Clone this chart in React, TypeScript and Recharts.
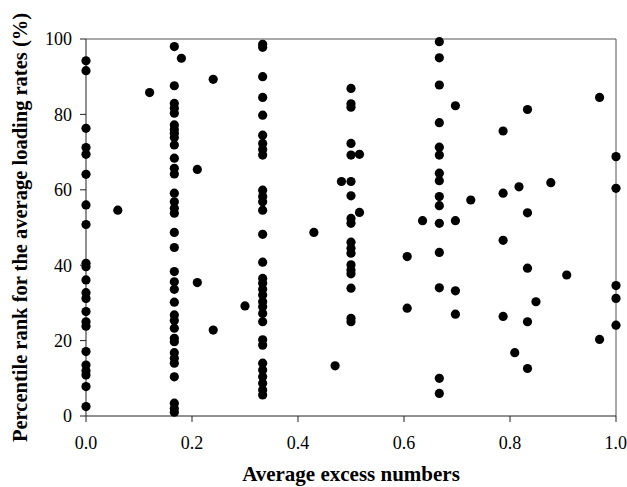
import React from "react";
import {
  ScatterChart,
  Scatter,
  XAxis,
  YAxis,
  ReferenceLine,
  Label,
} from "recharts";

// columns of points at the common excess values
const COL_0 = [94.2, 91.6, 76.3, 71.2, 69.4, 64.1, 56.0, 50.8, 40.5, 39.6, 36.1, 32.7, 31.2, 27.7, 25.0, 23.8, 17.1, 13.5, 12.0, 10.9, 7.8, 2.5];
const COL_1_6 = [98.0, 87.6, 82.9, 81.6, 80.3, 77.2, 76.0, 75.0, 73.9, 71.9, 68.4, 65.7, 64.2, 59.1, 56.8, 55.1, 53.8, 48.7, 44.7, 38.3, 35.6, 33.6, 30.2, 26.8, 25.3, 23.3, 20.6, 19.7, 16.8, 15.3, 14.0, 10.4, 3.4, 2.0, 1.0];
const COL_1_3 = [98.6, 97.8, 90.0, 84.5, 79.8, 74.5, 72.3, 70.7, 69.2, 59.9, 58.2, 56.8, 54.6, 48.2, 40.8, 36.5, 35.2, 33.6, 32.1, 30.3, 29.0, 27.2, 25.0, 20.2, 18.8, 14.0, 12.2, 10.4, 8.7, 6.9, 5.6];
const COL_1_2 = [86.9, 82.8, 81.9, 72.3, 69.2, 62.2, 58.4, 52.4, 51.1, 46.1, 44.5, 43.2, 40.1, 38.7, 37.7, 33.9, 25.9, 25.0];
const COL_2_3 = [99.3, 95.0, 87.8, 77.8, 71.3, 69.2, 64.4, 62.4, 58.2, 55.8, 51.1, 43.4, 34.0, 10.0, 6.0];
const COL_1 = [68.8, 60.4, 34.6, 31.2, 24.1];

// scattered points between the columns
const OTHER_X = [0.06, 0.12, 0.18, 0.21, 0.21, 0.24, 0.24, 0.30, 0.43, 0.47, 0.482, 0.516, 0.516, 0.606, 0.606, 0.635, 0.697, 0.697, 0.697, 0.697, 0.726, 0.787, 0.787, 0.787, 0.787, 0.809, 0.817, 0.833, 0.833, 0.833, 0.833, 0.833, 0.849, 0.877, 0.907, 0.969, 0.969];
const OTHER_Y = [54.6, 85.8, 94.9, 65.4, 35.4, 89.3, 22.8, 29.2, 48.7, 13.3, 62.2, 69.4, 54.0, 42.3, 28.6, 51.8, 82.3, 51.8, 33.2, 27.0, 57.3, 75.6, 59.1, 46.6, 26.4, 16.8, 60.8, 81.3, 53.9, 39.2, 25.0, 12.6, 30.3, 61.9, 37.4, 84.5, 20.3];

const X_TICKS = [0, 0.2, 0.4, 0.6, 0.8, 1.0];
const Y_TICKS = [0, 20, 40, 60, 80, 100];

const column = (x: number, ys: number[]) => ys.map((y) => ({ x, y }));

const data = [
  ...column(0, COL_0),
  ...column(1 / 6, COL_1_6),
  ...column(1 / 3, COL_1_3),
  ...column(0.5, COL_1_2),
  ...column(2 / 3, COL_2_3),
  ...column(1, COL_1),
  ...OTHER_X.map((x, i) => ({ x, y: OTHER_Y[i] })),
];

const FONT = '"Liberation Serif", "Times New Roman", serif';
const AXIS = "#222";

const Dot = (props: any) => (
  <circle cx={props.cx} cy={props.cy} r={4.6} fill="#000" />
);

export default function App() {
  return (
    <div style={{ position: "absolute", left: 0, top: 0, background: "#fff" }}>
      <ScatterChart
        width={627}
        height={487}
        margin={{ top: 39, right: 11, bottom: 0, left: 0 }}
        style={{ fontFamily: FONT }}
      >
        <XAxis
          type="number"
          dataKey="x"
          domain={[0, 1]}
          ticks={X_TICKS}
          tickFormatter={(v: number) => v.toFixed(1)}
          height={71}
          tickSize={6}
          tickMargin={14}
          stroke={AXIS}
          tick={{ fill: "#000", fontSize: 18, fontFamily: FONT }}
        >
          <Label
            value="Average excess numbers"
            position="insideBottom"
            offset={6}
            style={{ fontSize: 21, fontWeight: "bold", fill: "#000", fontFamily: FONT }}
          />
        </XAxis>
        <YAxis
          type="number"
          dataKey="y"
          domain={[0, 100]}
          ticks={Y_TICKS}
          width={86}
          tickSize={6}
          tickMargin={8}
          stroke={AXIS}
          tick={{ fill: "#000", fontSize: 18, fontFamily: FONT }}
        >
          <Label
            value="Percentile rank for the average loading rates (%)"
            angle={-90}
            position="insideLeft"
            offset={20}
            style={{ textAnchor: "middle", fontSize: 20.5, fontWeight: "bold", fill: "#000", fontFamily: FONT }}
          />
        </YAxis>
        <ReferenceLine y={100} stroke="#555" strokeWidth={1} />
        <ReferenceLine x={1} stroke="#555" strokeWidth={1} />
        <Scatter data={data} shape={Dot} isAnimationActive={false} />
      </ScatterChart>
    </div>
  );
}
